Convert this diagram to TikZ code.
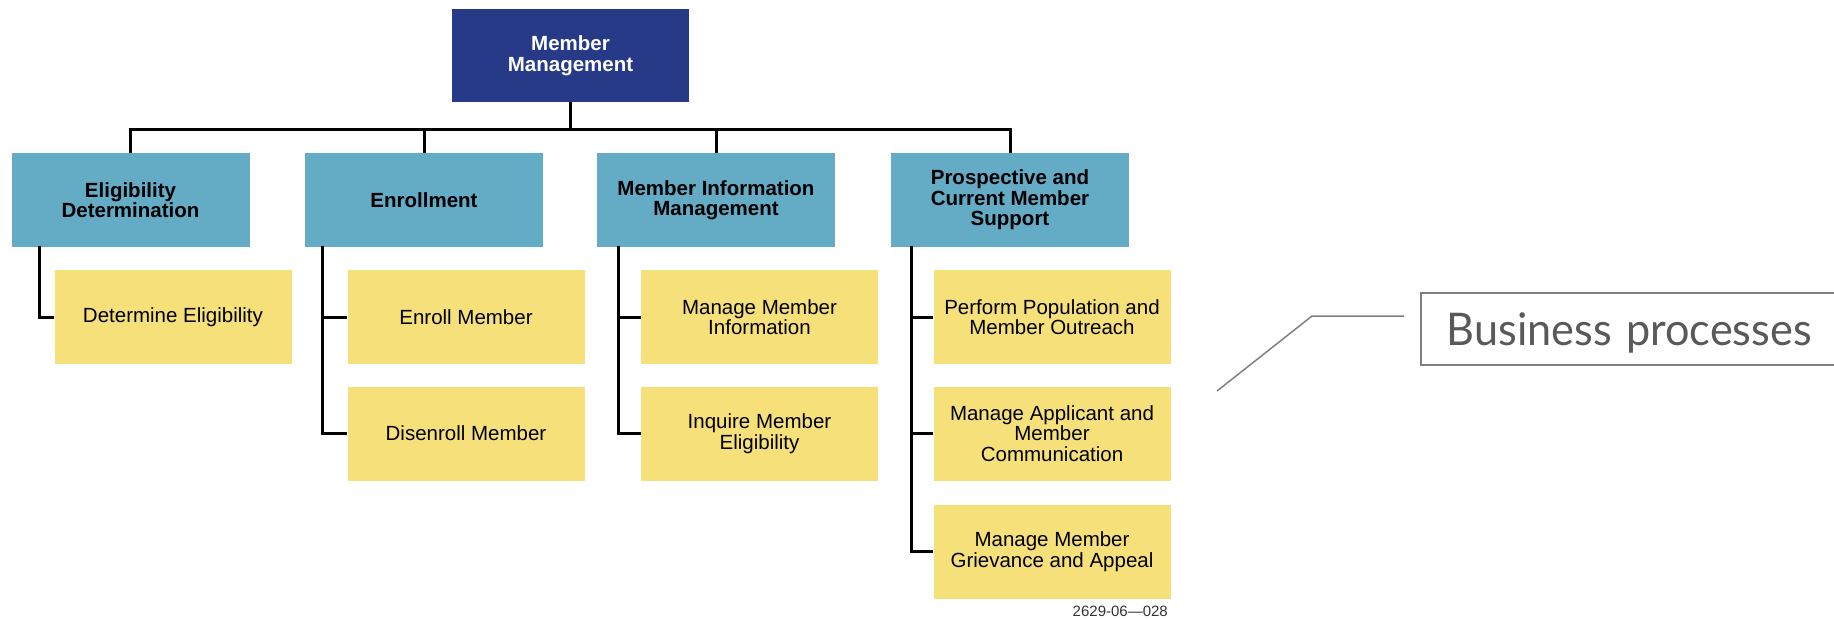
\documentclass[tikz,border=0pt]{standalone}
\usepackage{fontspec}
\setmainfont{Liberation Sans}
\newfontfamily\calloutfont{Lato}
\definecolor{navy}{RGB}{38,58,135}
\definecolor{steel}{RGB}{100,171,198}
\definecolor{sand}{RGB}{245,224,122}
\definecolor{leadgray}{RGB}{128,128,128}
\definecolor{textgray}{RGB}{89,89,89}
\tikzset{
  topbox/.style={fill=navy, text=white, font=\fontsize{20.5}{20.5}\selectfont\bfseries, align=center, minimum width=237pt, minimum height=93pt, inner sep=0pt},
  areabox/.style={fill=steel, text=black, font=\fontsize{20.5}{20.5}\selectfont\bfseries, align=center, minimum width=238pt, minimum height=94pt, inner sep=0pt},
  procbox/.style={fill=sand, text=black, font=\fontsize{20.5}{20.5}\selectfont, align=center, minimum width=237pt, minimum height=94pt, inner sep=0pt},
  conn/.style={draw=black, line width=3pt},
  leader/.style={draw=leadgray, line width=1.5pt},
  calloutbox/.style={draw=leadgray, line width=1.5pt, fill=white, text=textgray, font=\calloutfont\fontsize{45}{45}\selectfont, minimum height=72pt, text width=390pt, align=left, inner xsep=26pt, text depth=0pt}
}
\begin{document}
\begin{tikzpicture}[x=1pt,y=-1pt]
\useasboundingbox (0,0) rectangle (1834,619);
\clip (0,0) rectangle (1834,619);
\fill[white] (0,0) rectangle (1834,619);

\node[topbox] (top) at (570.5,55.5) {Member\\Management};

\node[areabox] (a1) at (130.5,200) {Eligibility\\Determination};
\node[areabox] (a2) at (424,200) {Enrollment};
\node[areabox] (a3) at (716,200) {Member Information\\Management};
\node[areabox] (a4) at (1010,200) {Prospective and\\Current Member\\Support};

\node[procbox] (p11) at (173,317) {Determine Eligibility};
\node[procbox] (p21) at (466,317) {Enroll Member};
\node[procbox] (p22) at (466,433.5) {Disenroll Member};
\node[procbox] (p31) at (759.5,317) {Manage Member\\Information};
\node[procbox] (p32) at (759.5,433.5) {Inquire Member\\Eligibility};
\node[procbox] (p41) at (1052,317) {Perform Population and\\Member Outreach};
\node[procbox] (p42) at (1052,433.5) {Manage Applicant and\\Member\\Communication};
\node[procbox] (p43) at (1052,551.5) {Manage Member\\Grievance and Appeal};

% bus
\coordinate (bus) at (0,129);
\draw[conn] (top.south) -- (top.south |- bus);
\draw[conn] (a1.north) -- (a1.north |- bus) -| (a4.north);
\draw[conn] (a2.north) -- (a2.north |- bus);
\draw[conn] (a3.north) -- (a3.north |- bus);

% spines
\coordinate (s1) at (39,246);
\coordinate (s2) at (322,246);
\coordinate (s3) at (618,246);
\coordinate (s4) at (911.5,246);
\draw[conn] (s1) |- (p11.west);
\draw[conn] (s2) |- (p21.west);
\draw[conn] (s2) |- (p22.west);
\draw[conn] (s3) |- (p31.west);
\draw[conn] (s3) |- (p32.west);
\draw[conn] (s4) |- (p41.west);
\draw[conn] (s4) |- (p42.west);
\draw[conn] (s4) |- (p43.west);

\node[anchor=base east, font=\fontsize{15}{15}\selectfont, text=black!80, inner sep=0pt] (code) at (1168,616) {2629-06—028};

% callout
\node[calloutbox, anchor=north west] (bp) at (1420,292) {\scalebox{0.96}[1]{Business processes}};
\coordinate (lp) at (1217,391);
\coordinate (lk) at (1312,316);
\coordinate (le) at (1404,316);
\draw[leader] (lp) -- (lk) -- (le);
\end{tikzpicture}
\end{document}
